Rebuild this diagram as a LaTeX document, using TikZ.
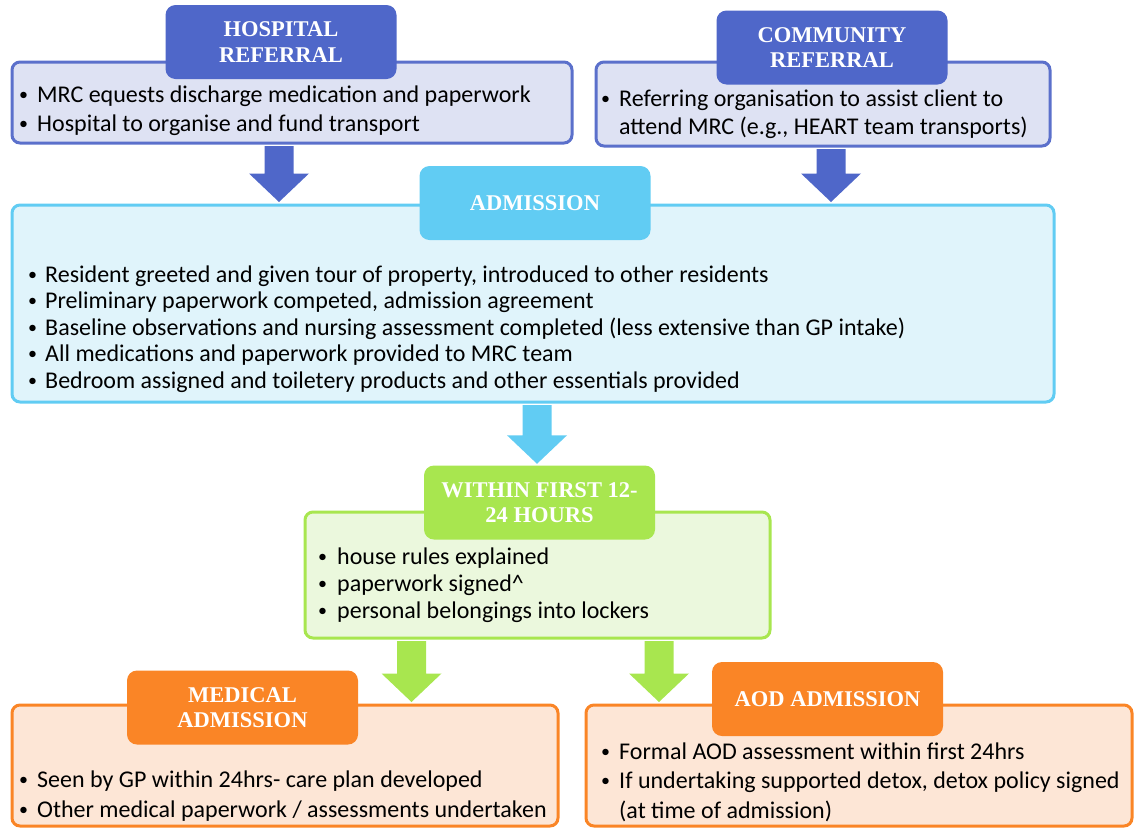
\documentclass[tikz,border=0pt]{standalone}
\usepackage{fontspec}
\setmainfont{Carlito}
\newfontfamily\headfont{Liberation Serif}
\usetikzlibrary{calc,fit}

\definecolor{refblue}{HTML}{4F67C9}
\definecolor{refblueline}{HTML}{5B70CB}
\definecolor{refbluelight}{HTML}{DEE2F3}
\definecolor{admcyan}{HTML}{61CCF3}
\definecolor{admcyanlight}{HTML}{E0F4FB}
\definecolor{daygreen}{HTML}{A8E64F}
\definecolor{daygreenlight}{HTML}{EBF8DD}
\definecolor{aodorange}{HTML}{FA8526}
\definecolor{aodorangelight}{HTML}{FDE6D6}

\newcommand{\itm}[1][18pt]{\makebox[#1][l]{\raisebox{0.08em}{\scalebox{0.75}{\textbullet}}}}
% block arrow: colour, start (on box), tip (on box)
\newcommand{\blockarrow}[3]{%
  \fill[#1] ($(#2)+(-14.5,1.5)$) -- ($(#2)+(14.5,1.5)$) -- ($(#3)+(14.5,-30)$)
    -- ($(#3)+(30,-30)$) -- ($(#3)+(0,-1.5)$) -- ($(#3)+(-30,-30)$)
    -- ($(#3)+(-14.5,-30)$) -- cycle;}

\begin{document}
\begin{tikzpicture}[x=1pt,y=-1pt,
  box/.style={line width=3pt, rounded corners=8pt, inner sep=0pt},
  head/.style={rounded corners=10pt, minimum width=231pt, minimum height=74pt,
    inner sep=0pt, text=white, align=center,
    font=\headfont\bfseries\fontsize{22.5}{25.5}\selectfont},
  txt/.style={anchor=west, align=left, inner sep=0pt}]
\useasboundingbox (0,0) rectangle (1135,828);

% boxes
\node (hbody) [box, draw=refblueline, fill=refbluelight, fit={(12,62) (572,143)}] {};
\node (cbody) [box, draw=refblueline, fill=refbluelight, fit={(596,62) (1050,146)}] {};
\node (adm) [box, draw=admcyan, fill=admcyanlight, fit={(12,205) (1054,402)}] {};
\node (wbody) [box, draw=daygreen, fill=daygreenlight, fit={(305,512) (770,638)}] {};
\node (mbody) [box, draw=aodorange, fill=aodorangelight, fit={(12,705) (558,826)}] {};
\node (abody) [box, draw=aodorange, fill=aodorangelight, fit={(586,705) (1132,826)}] {};

% headers
\node (hhead) at (281,42) [head, fill=refblue] {HOSPITAL\\REFERRAL};
\node (chead) at (832,47.5) [head, fill=refblue] {COMMUNITY\\REFERRAL};
\node (ahead) at (535,203) [head, fill=admcyan] {ADMISSION};
\node (whead) at (539.5,502.5) [head, fill=daygreen] {WITHIN FIRST 12-\\24 HOURS};
\node (mhead) at (242.5,707.5) [head, fill=aodorange] {MEDICAL\\ADMISSION};
\node (aodhead) at (827.5,699) [head, fill=aodorange] {AOD ADMISSION};

% arrows
\blockarrow{refblue}{279,0 |- hbody.south}{279,0 |- adm.north}
\blockarrow{refblue}{831,0 |- cbody.south}{831,0 |- adm.north}
\blockarrow{admcyan}{537,0 |- adm.south}{537,0 |- whead.north}
\blockarrow{daygreen}{411.5,0 |- wbody.south}{411.5,0 |- mbody.north}
\blockarrow{daygreen}{659,0 |- wbody.south}{659,0 |- abody.north}

% texts
\node (htxt) at (19,110.5) [txt, font=\fontsize{24}{29}\selectfont]
  {\itm MRC equests discharge medication and paperwork\\
   \itm Hospital to organise and fund transport};
\node (ctxt) at (601,114) [txt, font=\fontsize{24}{28}\selectfont]
  {\itm Referring organisation to assist client to\\
   \hspace*{18pt}attend MRC (e.g., HEART team transports)};
\node (atxt) at (28,329) [txt, font=\fontsize{24}{26.5}\selectfont]
  {\itm[17pt]Resident greeted and given tour of property, introduced to other residents\\
   \itm[17pt]Preliminary paperwork competed, admission agreement\\
   \itm[17pt]Baseline observations and nursing assessment completed (less extensive than GP intake)\\
   \itm[17pt]All medications and paperwork provided to MRC team\\
   \itm[17pt]Bedroom assigned and toiletery products and other essentials provided};
\node (wtxt) at (318,585) [txt, font=\fontsize{24}{27}\selectfont]
  {\itm[19pt]house rules explained\\
   \itm[19pt]paperwork signed\textasciicircum\\
   \itm[19pt]personal belongings into lockers};
\node (mtxt) at (19,796) [txt, font=\fontsize{24}{30}\selectfont]
  {\itm Seen by GP within 24hrs- care plan developed\\
   \itm Other medical paperwork / assessments undertaken};
\node (aodtxt) at (601,782) [txt, font=\fontsize{24}{29.5}\selectfont]
  {\itm Formal AOD assessment within first 24hrs\\
   \itm If undertaking supported detox, detox policy signed\\
   \hspace*{18pt}(at time of admission)};
\end{tikzpicture}
\end{document}
